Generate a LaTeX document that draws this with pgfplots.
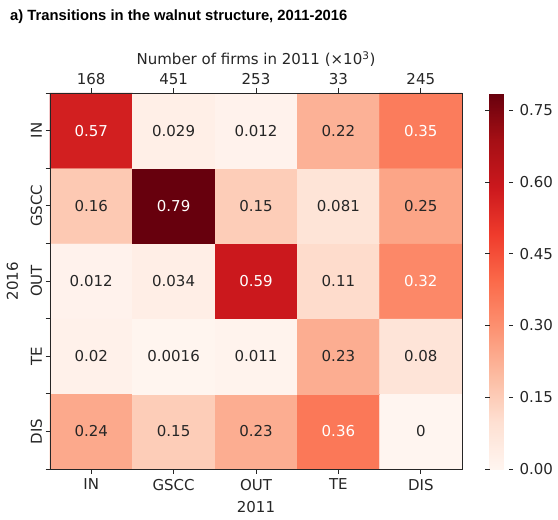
\documentclass[border=0pt]{standalone}
\usepackage{pgfplots}
\pgfplotsset{compat=1.18}
\usepackage{pgfplotstable}
\usepackage{fontspec}
\setmainfont{DejaVu Sans}
\newfontfamily\titlefont{Liberation Sans}
\definecolor{txt}{HTML}{262626}

\pgfplotstableread{
x y c
0 0 0.24
1 0 0.15
2 0 0.23
3 0 0.36
4 0 0
0 1 0.02
1 1 0.0016
2 1 0.011
3 1 0.23
4 1 0.08
0 2 0.012
1 2 0.034
2 2 0.59
3 2 0.11
4 2 0.32
0 3 0.16
1 3 0.79
2 3 0.15
3 3 0.081
4 3 0.25
0 4 0.57
1 4 0.029
2 4 0.012
3 4 0.22
4 4 0.35
}\heat

\pgfplotstableread{
x y l
0 4 0.57
4 4 0.35
1 3 0.79
2 2 0.59
4 2 0.32
3 0 0.36
}\whitelabels

\pgfplotstableread{
x y l
0 0 0.24
1 0 0.15
2 0 0.23
4 0 0
0 1 0.02
1 1 0.0016
2 1 0.011
3 1 0.23
4 1 0.08
0 2 0.012
1 2 0.034
3 2 0.11
0 3 0.16
2 3 0.15
3 3 0.081
4 3 0.25
1 4 0.029
2 4 0.012
3 4 0.22
}\darklabels

\begin{document}
\begin{tikzpicture}
\path[use as bounding box] (0,0) rectangle (558bp,520bp);
\node[anchor=base west, inner sep=0pt, font=\titlefont\bfseries\fontsize{14.8bp}{17bp}\selectfont] at (10bp,499bp) {a) Transitions in the walnut structure, 2011-2016};
\begin{axis}[
  at={(50bp,51bp)}, anchor=south west,
  scale only axis, width=412bp, height=376bp,
  xmin=-0.5, xmax=4.5, ymin=-0.5, ymax=4.5,
  colormap={reds}{rgb255=(255,245,240) rgb255=(254,224,210) rgb255=(252,187,161) rgb255=(252,146,114) rgb255=(251,106,74) rgb255=(239,59,44) rgb255=(203,24,29) rgb255=(165,15,21) rgb255=(103,0,13)},
  point meta min=0, point meta max=0.786,
  colorbar,
  colorbar style={
    at={(parent axis.north east)}, anchor=north west, xshift=19bp,
    width=19bp,
    font=\fontsize{15bp}{18bp}\selectfont,
    ytick={0,0.15,0.3,0.45,0.6,0.75},
    yticklabel style={/pgf/number format/.cd, fixed, fixed zerofill, precision=2, /tikz/.cd, text=txt, font=\fontsize{15bp}{18bp}\selectfont, xshift=3bp},
    axis line style={draw=none},
    tick align=outside, major tick length=4.5bp,
    tick style={txt, line width=0.8bp},
    /pgf/number format/assume math mode=true,
  },
  xtick={0,...,4}, xticklabels={IN,GSCC,OUT,TE,DIS},
  ytick={0,...,4}, yticklabels={DIS,TE,OUT,GSCC,IN},
  extra y ticks={-0.5,0.5,1.5,2.5,3.5,4.5},
  extra y tick labels={},
  xtick pos=bottom, ytick pos=left,
  tick align=outside, major tick length=4.5bp,
  tick style={txt, line width=0.8bp},
  axis line style={txt, line width=0.9bp},
  yticklabel style={rotate=90, anchor=south, text=txt},
  xticklabel style={text=txt, yshift=-2bp},
  xlabel={2011},
  xlabel style={text=txt, yshift=-4bp},
  font=\fontsize{15bp}{18bp}\selectfont,
  axis on top,
  clip=false,
]
\addplot[matrix plot*, mesh/cols=5, point meta=explicit] table[x=x, y=y, meta=c] {\heat};
\addplot[only marks, mark=none, point meta=explicit symbolic, nodes near coords,
  nodes near coords style={anchor=center, text=white, font=\fontsize{15bp}{18bp}\selectfont}]
  table[x=x, y=y, meta=l] {\whitelabels};
\addplot[only marks, mark=none, point meta=explicit symbolic, nodes near coords,
  nodes near coords style={anchor=center, text=txt, font=\fontsize{15bp}{18bp}\selectfont}]
  table[x=x, y=y, meta=l] {\darklabels};
\node[rotate=90, anchor=center, text=txt, font=\fontsize{15bp}{18bp}\selectfont] at (rel axis cs:-0.091,0.5) {2016};
\end{axis}
\begin{axis}[
  at={(50bp,51bp)}, anchor=south west,
  scale only axis, width=412bp, height=376bp,
  xmin=-0.5, xmax=4.5, ymin=0, ymax=1,
  axis x line*=top, axis y line=none,
  xtick={0,...,4}, xticklabels={168,451,253,33,245},
  tick align=outside, major tick length=4.5bp,
  tick style={txt, line width=0.8bp},
  axis line style={txt, line width=0.9bp},
  xticklabel style={text=txt},
  xlabel={Number of firms in 2011 (×10\textsuperscript{3})},
  label style={text=txt},
  font=\fontsize{15bp}{18bp}\selectfont,
]
\addplot[draw=none] coordinates {(0,0)};
\end{axis}
\end{tikzpicture}
\end{document}
